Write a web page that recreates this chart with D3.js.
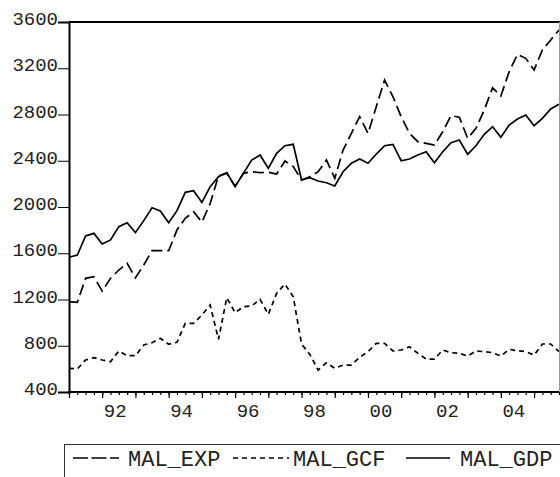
<!DOCTYPE html>
<html>
<head>
<meta charset="utf-8">
<script src="https://cdn.jsdelivr.net/npm/d3@7"></script>
<style>
  html, body { margin: 0; padding: 0; background: #fff; }
  svg { display: block; }
  text { font-family: "Liberation Mono", "Courier New", monospace; fill: #222; }
</style>
</head>
<body>
<div id="chart"></div>
<script>
// ---- data (quarterly, 1991Q1 .. 2005Q4) ----
const startYear = 1991;
const nQuarters = 60;
const quarters = d3.range(nQuarters).map(i => startYear + i / 4);

const malExp = [
  1181, 1176, 1383, 1397, 1273, 1383, 1455, 1513, 1388, 1498,
  1622, 1622, 1622, 1801, 1902, 1959, 1870, 2030, 2270, 2291,
  2180, 2291, 2305, 2297, 2300, 2285, 2398, 2349, 2233, 2262,
  2305, 2406, 2248, 2493, 2637, 2781, 2637, 2867, 3098, 2954,
  2781, 2637, 2565, 2551, 2536, 2651, 2790, 2776, 2594, 2680,
  2839, 3032, 2960, 3170, 3320, 3286, 3185, 3358, 3444, 3531
];
const malGcf = [
  605, 599, 677, 697, 677, 662, 755, 714, 714, 806,
  826, 864, 813, 830, 994, 994, 1066, 1152, 855, 1216,
  1086, 1138, 1144, 1202, 1072, 1253, 1334, 1224, 815, 725,
  590, 653, 605, 633, 633, 700, 749, 821, 821, 755,
  763, 792, 735, 685, 685, 763, 740, 735, 711, 755,
  749, 740, 711, 769, 757, 749, 720, 815, 815, 749
];
const malGdp = [
  1565, 1585, 1749, 1772, 1680, 1715, 1830, 1864, 1778, 1882,
  1994, 1965, 1864, 1968, 2127, 2141, 2040, 2176, 2262, 2297,
  2176, 2291, 2406, 2450, 2335, 2464, 2530, 2542, 2233, 2253,
  2225, 2210, 2182, 2305, 2378, 2415, 2378, 2458, 2530, 2542,
  2400, 2415, 2450, 2478, 2383, 2478, 2556, 2579, 2456, 2530,
  2629, 2695, 2603, 2709, 2761, 2796, 2703, 2767, 2848, 2888
];

const yTicks = [400, 800, 1200, 1600, 2000, 2400, 2800, 3200, 3600];
const xLabelYears = [1992, 1994, 1996, 1998, 2000, 2002, 2004];
const seriesNames = ["MAL_EXP", "MAL_GCF", "MAL_GDP"];

// ---- layout ----
const W = 560, H = 477;
const L = 69, R = 559, T = 22, B = 392;

const svg = d3.select("#chart").append("svg")
  .attr("width", W).attr("height", H);

const x = d3.scaleLinear()
  .domain([quarters[0], quarters[quarters.length - 1]])
  .range([L, R]);
const y = d3.scaleLinear().domain([400, 3600]).range([B, T]);

// ---- lines ----
const line = d3.line().x((d, i) => x(quarters[i])).y(d => y(d));
const styles = [
  { data: malExp, dash: "11,5" },
  { data: malGcf, dash: "5,4" },
  { data: malGdp, dash: null }
];
styles.forEach(s => {
  svg.append("path")
    .datum(s.data)
    .attr("d", line)
    .attr("fill", "none")
    .attr("stroke", "#000")
    .attr("stroke-width", 1.7)
    .attr("stroke-linejoin", "miter")
    .attr("stroke-dasharray", s.dash);
});

// ---- frame ----
svg.append("line").attr("x1", L).attr("x2", W).attr("y1", T).attr("y2", T)
  .attr("stroke", "#000").attr("stroke-width", 2);
svg.append("line").attr("x1", R + 0.5).attr("x2", R + 0.5).attr("y1", T).attr("y2", B)
  .attr("stroke", "#999").attr("stroke-width", 1);

// ---- y axis ----
const yAxis = d3.axisLeft(y).tickValues(yTicks).tickSize(11).tickPadding(1)
  .tickFormat(d3.format("d"));
const gy = svg.append("g").attr("transform", `translate(${L},0)`).call(yAxis);
gy.select(".domain").attr("stroke", "#000").attr("stroke-width", 2);
gy.selectAll(".tick line").attr("stroke", "#000").attr("stroke-width", 1);
gy.selectAll(".tick text")
  .attr("font-family", "Liberation Mono")
  .attr("font-size", 19)
  .attr("dy", "0").attr("y", 2.5).attr("x", -11)
  .attr("fill", "#222");

// ---- x axis ----
const gxMinor = svg.append("g").attr("transform", `translate(0,${B})`)
  .call(d3.axisBottom(x).tickValues(quarters).tickSize(3).tickFormat(""));
gxMinor.selectAll(".tick line").attr("stroke", "#000").attr("stroke-width", 1.2);
gxMinor.select(".domain").remove();

const yearStarts = quarters.filter((q, i) => i % 4 === 0);
const gxMajor = svg.append("g").attr("transform", `translate(0,${B})`)
  .call(d3.axisBottom(x).tickValues(yearStarts).tickSize(6).tickFormat(""));
gxMajor.selectAll(".tick line").attr("stroke", "#000").attr("stroke-width", 1.2);
gxMajor.select(".domain").remove();

const gxLab = svg.append("g").attr("transform", `translate(0,${B})`)
  .call(d3.axisBottom(x).tickValues(xLabelYears.map(yr => yr + 0.375))
    .tickSize(0).tickFormat(d => String(Math.floor(d) % 100).padStart(2, "0")));
gxLab.select(".domain").remove();
gxLab.selectAll(".tick text")
  .attr("font-family", "Liberation Mono")
  .attr("font-size", 19)
  .attr("dy", "0").attr("y", 25)
  .attr("fill", "#222");

svg.append("line").attr("x1", L - 1).attr("x2", R).attr("y1", B).attr("y2", B)
  .attr("stroke", "#000").attr("stroke-width", 2);

// ---- legend ----
svg.append("rect").attr("x", 64.5).attr("y", 444.5)
  .attr("width", 600).attr("height", 100)
  .attr("fill", "none").attr("stroke", "#333").attr("stroke-width", 1);

const legendItems = [
  { name: seriesNames[0], dash: "15,3.5", x1: 73, x2: 119, tx: 128 },
  { name: seriesNames[1], dash: "5,4", x1: 233, x2: 289, tx: 293 },
  { name: seriesNames[2], dash: null, x1: 406, x2: 450, tx: 460 }
];
const ly = 458;
legendItems.forEach(it => {
  svg.append("line").attr("x1", it.x1).attr("x2", it.x2)
    .attr("y1", ly).attr("y2", ly)
    .attr("stroke", "#000").attr("stroke-width", 1.7)
    .attr("stroke-dasharray", it.dash);
  svg.append("text").attr("x", it.tx).attr("y", 466)
    .attr("font-size", 22).attr("fill", "#222")
    .text(it.name);
});
</script>
</body>
</html>
